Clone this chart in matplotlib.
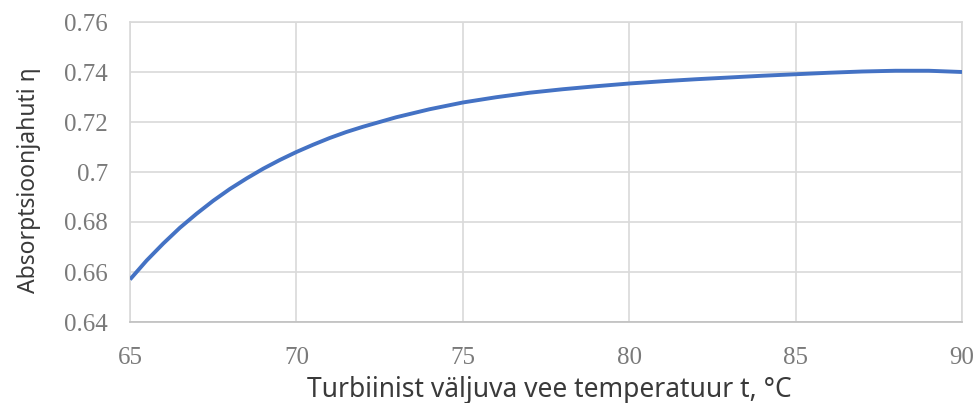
import matplotlib
matplotlib.use('Agg')
import matplotlib.pyplot as plt

# ---------- Data ----------------------------------------------

temperature = [65, 65.5, 66, 66.5, 67, 67.5, 68, 68.5, 69, 69.5, 70, 70.5,
               71, 71.5, 72, 73, 74, 75, 76, 77, 78, 79, 80, 81, 82, 83,
               84, 85, 86, 87, 88, 89, 90]
efficiency = [0.6570, 0.6646, 0.6714, 0.6777, 0.6833, 0.6885, 0.6932, 0.6974,
              0.7013, 0.7048, 0.7080, 0.7109, 0.7136, 0.7160, 0.7181, 0.7219,
              0.7251, 0.7278, 0.7299, 0.7317, 0.7331, 0.7343, 0.7354, 0.7363,
              0.7371, 0.7378, 0.7385, 0.7391, 0.7397, 0.7402, 0.7405, 0.7405,
              0.7400]

x_ticks = [65, 70, 75, 80, 85, 90]
y_ticks = [0.64, 0.66, 0.68, 0.70, 0.72, 0.74, 0.76]
y_tick_labels = ['0.64', '0.66', '0.68', '0.7', '0.72', '0.74', '0.76']

x_label = 'Turbiinist väljuva vee temperatuur t, °C'
y_label = 'Absorptsioonjahuti η'

# ---------- Styles --------------------------------------------

line_color = '#4472C4'
grid_color = '#d9d9d9'
tick_color = '#7a7a7a'
label_color = '#3a3a3a'

tick_font = {'family': 'Liberation Serif', 'size': 18}

# ---------- Main ----------------------------------------------

fig = plt.figure(figsize=(9.76, 4.03), dpi=100)
ax = fig.add_axes([130/976, 1 - 322/403, (962 - 130)/976, (322 - 22)/403])

ax.plot(temperature, efficiency, color=line_color, linewidth=2.8,
        solid_joinstyle='round', solid_capstyle='butt', zorder=3)

ax.set_xlim(65, 90)
ax.set_ylim(0.64, 0.76)
ax.set_xticks(x_ticks)
ax.set_yticks(y_ticks)
ax.set_xticklabels([str(v) for v in x_ticks], fontdict=tick_font, color=tick_color)
ax.set_yticklabels(y_tick_labels, fontdict=tick_font, color=tick_color)
ax.tick_params(axis='both', length=0)
ax.tick_params(axis='x', pad=18)
ax.tick_params(axis='y', pad=16)

ax.grid(True, color=grid_color, linewidth=1.2, zorder=0)
ax.set_axisbelow(True)
for side in ['top', 'right', 'left']:
    ax.spines[side].set_color(grid_color)
    ax.spines[side].set_linewidth(1.2)
ax.spines['bottom'].set_color('#bfbfbf')
ax.spines['bottom'].set_linewidth(1.2)

fig.text(549/976, 1 - 397/403, x_label, ha='center', va='baseline',
         color=label_color, family='Noto Sans', size=19)
fig.text(29/976, 1 - 180/403, y_label, ha='center', va='center',
         rotation=90, color=label_color, family='Noto Sans', size=16.5)

fig.savefig('out.png', dpi=100)
